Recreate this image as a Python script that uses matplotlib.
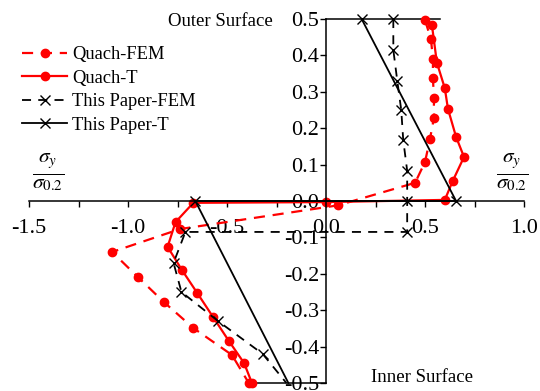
import matplotlib
matplotlib.use("Agg")
import matplotlib.pyplot as plt
from matplotlib.ticker import MultipleLocator, FixedLocator

plt.rcParams['font.family'] = ['Liberation Serif', 'DejaVu Serif']
plt.rcParams['mathtext.fontset'] = 'stix'
plt.rcParams['axes.unicode_minus'] = False

# ---- data (x = sigma_y / sigma_0.2, y = position through thickness) ----
quach_fem_x = [0.50, 0.53, 0.54, 0.54, 0.545, 0.545, 0.525, 0.50, 0.45, 0.06,
               -0.737, -1.08, -0.95, -0.82, -0.67, -0.475, -0.39]
quach_fem_y = [0.497, 0.445, 0.39, 0.338, 0.283, 0.228, 0.17, 0.107, 0.05, -0.012,
               -0.077, -0.14, -0.209, -0.277, -0.349, -0.423, -0.50]

quach_t_x = [0.535, 0.56, 0.60, 0.616, 0.657, 0.697, 0.64, 0.60, 0.0,
             -0.67, -0.76, -0.80, -0.727, -0.65, -0.57, -0.49, -0.414, -0.374]
quach_t_y = [0.483, 0.38, 0.31, 0.253, 0.176, 0.121, 0.055, 0.003, -0.003,
             -0.005, -0.058, -0.126, -0.19, -0.253, -0.319, -0.385, -0.445, -0.50]

paper_fem_x = [0.34, 0.34, 0.36, 0.38, 0.39, 0.41, 0.41, 0.41,
               -0.71, -0.77, -0.73, -0.545, -0.32, -0.20]
paper_fem_y = [0.50, 0.415, 0.33, 0.25, 0.168, 0.083, 0.0, -0.085,
               -0.085, -0.17, -0.25, -0.33, -0.42, -0.50]

paper_t_x = [0.18, 0.657, -0.66, -0.19]
paper_t_y = [0.50, 0.0, 0.0, -0.50]

outer_line_x = [0.0, 0.575]
outer_line_y = [0.5, 0.5]
inner_line_x = [-0.40, 0.0]
inner_line_y = [-0.5, -0.5]

x_ticks = [-1.5, -1.0, -0.5, 0.0, 0.5, 1.0]
x_tick_labels = ['-1.5', '-1.0', '-0.5', '0.0', '0.5', '1.0']
y_ticks = [-0.5, -0.4, -0.3, -0.2, -0.1, 0.0, 0.1, 0.2, 0.3, 0.4, 0.5]
y_tick_labels = ['-0.5', '-0.4', '-0.3', '-0.2', '-0.1', '0.0', '0.1', '0.2', '0.3', '0.4', '0.5']

# ---- figure ----
fig = plt.figure(figsize=(5.40, 3.91), dpi=100)
ax = fig.add_axes([29/540, 8/391, (524-29)/540, (383-19)/391])
ax.set_xlim(-1.5, 1.0)
ax.set_ylim(-0.5, 0.5)

for s in ['top', 'right']:
    ax.spines[s].set_visible(False)
ax.spines['left'].set_position(('data', 0))
ax.spines['bottom'].set_position(('data', 0))
ax.spines['left'].set_linewidth(1.1)
ax.spines['bottom'].set_linewidth(1.1)

ax.plot(outer_line_x, outer_line_y, color='black', lw=1.1, clip_on=False)
ax.plot(inner_line_x, inner_line_y, color='black', lw=1.1, clip_on=False)

ax.plot(quach_fem_x, quach_fem_y, color='red', ls=(0, (5, 3.5)), lw=1.6,
        marker='o', ms=6, label='Quach-FEM', clip_on=False)
ax.plot(quach_t_x, quach_t_y, color='red', ls='-', lw=1.6,
        marker='o', ms=6, label='Quach-T', clip_on=False)
ax.plot(paper_fem_x[:-1], paper_fem_y[:-1], color='black', ls=(0, (5, 4)), lw=1.3,
        marker='x', ms=7, mew=1.0, label='This Paper-FEM', clip_on=False)
ax.plot(paper_fem_x[-2:], paper_fem_y[-2:], color='black', ls=(0, (5, 4)), lw=1.3,
        clip_on=False)
ax.plot(paper_t_x, paper_t_y, color='black', ls='-', lw=1.3,
        marker='x', ms=7, mew=1.0, markevery=[0, 1, 2], label='This Paper-T',
        clip_on=False)

ax.xaxis.set_major_locator(FixedLocator(x_ticks))
ax.set_xticklabels(x_tick_labels)
ax.xaxis.set_minor_locator(MultipleLocator(0.25))
ax.yaxis.set_major_locator(FixedLocator(y_ticks))
ax.set_yticklabels(y_tick_labels)

ax.tick_params(axis='both', which='both', direction='out', length=4, width=1.0,
               labelsize=16)
ax.tick_params(axis='x', pad=9)
ax.tick_params(axis='y', pad=1)

leg = ax.legend(loc='upper left', bbox_to_anchor=(22/540, 1 - 46/391),
                bbox_transform=fig.transFigure, frameon=False, fontsize=13.3,
                handlelength=2.45, handletextpad=0.25, labelspacing=0.36,
                borderpad=0.0, borderaxespad=0.0)

fig.text(273/540, 1 - 22/391, 'Outer Surface', fontsize=13.5, ha='right', va='center')
fig.text(422/540, 1 - 378/391, 'Inner Surface', fontsize=13.5, ha='center', va='center')

frac = r'$\frac{\sigma_y}{\sigma_{0.2}}$'
fig.text(48/540, 1 - 172/391, frac, fontsize=22, ha='center', va='center')
fig.text(512/540, 1 - 172/391, frac, fontsize=22, ha='center', va='center')

fig.savefig('out.png', dpi=100)
